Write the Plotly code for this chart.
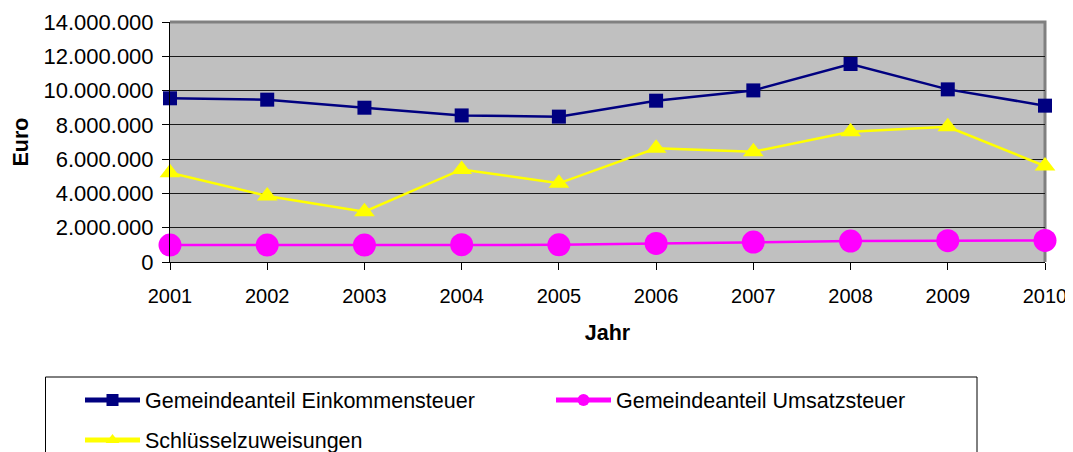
import plotly.graph_objects as go

jahre = [2001, 2002, 2003, 2004, 2005, 2006, 2007, 2008, 2009, 2010]

einkommensteuer = [9550000, 9470000, 9000000, 8550000, 8480000, 9410000, 10010000, 11550000, 10070000, 9120000]
umsatzsteuer = [990000, 990000, 990000, 1010000, 1000000, 1080000, 1160000, 1220000, 1240000, 1260000]
schluessel = [5210000, 3850000, 2930000, 5400000, 4590000, 6630000, 6430000, 7600000, 7890000, 5600000]

y_ticks = [0, 2000000, 4000000, 6000000, 8000000, 10000000, 12000000, 14000000]

font_main = "Liberation Sans, Arial, sans-serif"

# page has an 8px body margin, so the figure is 8px smaller than the window
# plot area in page pixels: x 170..1045, y 22..262
def px_x(p):
    return (p - 170) / 875.0

def px_y(p):
    return (262 - p) / 240.0

fig = go.Figure()

fig.add_trace(go.Scatter(
    x=jahre, y=einkommensteuer, name="Gemeindeanteil Einkommensteuer",
    mode="lines+markers", cliponaxis=False, legend="legend",
    line=dict(color="#000080", width=2.5),
    marker=dict(symbol="square", size=14, color="#000080"),
))
fig.add_trace(go.Scatter(
    x=jahre, y=umsatzsteuer, name="Gemeindeanteil Umsatzsteuer",
    mode="lines+markers", cliponaxis=False, legend="legend",
    line=dict(color="#FF00FF", width=2.5),
    marker=dict(symbol="circle", size=23, color="#FF00FF"),
))
fig.add_trace(go.Scatter(
    x=jahre, y=schluessel, name="Schlüsselzuweisungen",
    mode="lines+markers", cliponaxis=False, legend="legend2",
    line=dict(color="#FFFF00", width=2.5),
    marker=dict(symbol="triangle-up", size=18, color="#FFFF00"),
))

fig.update_xaxes(
    range=[2001, 2010], tickvals=jahre, ticktext=[str(j) for j in jahre],
    showgrid=False, ticks="outside", ticklen=7, tickcolor="#000000",
    showline=True, linecolor="#000000", linewidth=1, mirror=False,
    tickfont=dict(family=font_main, size=20, color="black"),
    ticklabelstandoff=9,
    title=dict(text="<b>Jahr</b>", font=dict(family=font_main, size=21.5, color="black"), standoff=18),
    zeroline=False,
)
fig.update_yaxes(
    range=[0, 14000000], tickvals=y_ticks, tickformat=",d",
    showgrid=True, gridcolor="#1a1a1a", gridwidth=1,
    ticks="outside", ticklen=7, tickcolor="#000000",
    showline=True, linecolor="#000000", linewidth=1, mirror=False,
    tickfont=dict(family=font_main, size=22, color="black"),
    ticklabelstandoff=4,
    title=dict(text="<b>Euro</b>", font=dict(family=font_main, size=21.5, color="black"), standoff=8),
    zeroline=False,
)

legend_font = dict(family=font_main, size=21.5, color="black")

fig.update_layout(
    width=1065, height=444,
    margin=dict(l=162, r=28, t=14, b=190, autoexpand=False),
    plot_bgcolor="#C0C0C0", paper_bgcolor="white",
    separators=",.",
    font=dict(family=font_main, size=22, color="black"),
    legend=dict(
        orientation="h", x=px_x(80), y=px_y(400), xanchor="left", yanchor="middle",
        borderwidth=0, bgcolor="rgba(0,0,0,0)",
        entrywidth=401, entrywidthmode="pixels", itemwidth=55,
        font=legend_font, itemsizing="constant",
    ),
    legend2=dict(
        orientation="h", x=px_x(80), y=px_y(440), xanchor="left", yanchor="middle",
        borderwidth=0, bgcolor="rgba(0,0,0,0)",
        itemwidth=55, font=legend_font, itemsizing="constant",
    ),
    showlegend=True,
    shapes=[
        # gray frame on top and right of the plot area
        dict(type="path", xref="paper", yref="paper", layer="between",
             path="M 0,1 L 1,1 L 1,0", line=dict(color="#808080", width=3)),
        # legend box
        dict(type="rect", xref="paper", yref="paper",
             x0=px_x(45.5), x1=px_x(977), y0=px_y(377), y1=px_y(470),
             line=dict(color="#000000", width=1), fillcolor="rgba(0,0,0,0)"),
    ],
)

fig.write_html("out.html")
